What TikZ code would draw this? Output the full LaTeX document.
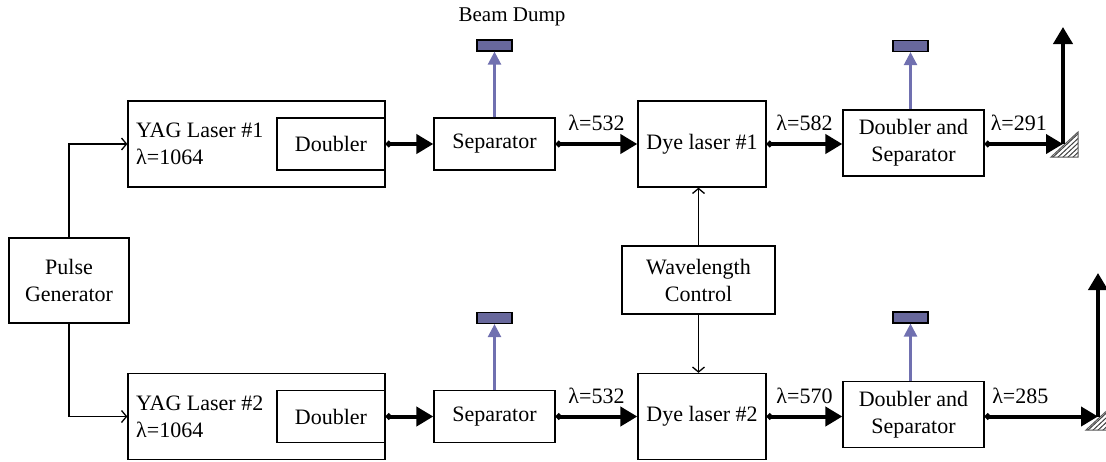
\documentclass[tikz,border=0pt]{standalone}
\usepackage{fontspec}
\setmainfont{Liberation Serif}
\newfontfamily\labelfont{Liberation Serif}
\usetikzlibrary{arrows.meta}
\definecolor{dumpfill}{RGB}{104,104,156}
\definecolor{dumpbeam}{RGB}{112,112,176}
\begin{document}
\begin{tikzpicture}[x=1pt,y=-1pt,
  txt/.style={font=\labelfont\fontsize{22}{27}\selectfont},
  blk/.style={draw,line width=1.3pt,inner sep=0pt,align=center,txt},
  dump/.style={draw,line width=1.2pt,fill=dumpfill,inner sep=0pt,minimum width=35pt,minimum height=11pt},
  beam/.style={line width=4pt,{Circle[length=6pt]}-{Triangle[length=17pt,width=19pt]}},
  outbeam/.style={line width=4pt,-{Triangle[length=17pt,width=19pt]}},
  dumpray/.style={draw=dumpbeam,line width=2.4pt,-{Triangle[length=13pt,width=13pt]}},
  sig/.style={line width=1.3pt,-{Straight Barb[length=5pt,width=12pt]}},
  lbl/.style={txt,inner sep=0pt,above=11pt},
  mirror/.style={draw=black!65,line width=1pt},
  hatch/.style={draw=black!75,line width=1pt}]
\useasboundingbox (0,0) rectangle (1106,461);
\clip (0,0) rectangle (1106,461);

% trigger source
\node[blk,minimum width=120pt,minimum height=85pt] (pulse) at (69,280.5) {Pulse\\Generator};

% upper chain
\node[blk,minimum width=257pt,minimum height=86pt] (yag1) at (256.5,144) {};
\node[txt,anchor=west,align=left,inner sep=0pt] (yag1t) at (136,144) {YAG Laser \#1\\λ=1064};
\node[blk,minimum width=108pt,minimum height=52pt] (dbl1) at (331,144) {Doubler};
\node[blk,minimum width=121pt,minimum height=52pt] (sep1) at (494.5,144) {Separator};
\node[dump] (dump1) at (494.5,45.5) {};
\node[font=\labelfont\fontsize{21}{24}\selectfont] (dumplbl) at (512,17) {Beam Dump};
\node[blk,minimum width=128pt,minimum height=86pt] (dye1) at (702,144) {Dye laser \#1};
\node[blk,minimum width=141pt,minimum height=66pt] (ds1) at (913.5,143) {Doubler and\\Separator};
\node[dump] (dump3) at (910.5,46) {};
\coordinate (m1) at (1063,144);
\coordinate (up1) at (1063,27);

% tuning
\node[blk,minimum width=153pt,minimum height=68pt] (wl) at (698.5,280) {Wavelength\\Control};

% lower chain
\node[blk,minimum width=257pt,minimum height=86pt] (yag2) at (256.5,416.5) {};
\node[txt,anchor=west,align=left,inner sep=0pt] (yag2t) at (136,416.5) {YAG Laser \#2\\λ=1064};
\node[blk,minimum width=108pt,minimum height=52pt] (dbl2) at (331,416.5) {Doubler};
\node[blk,minimum width=121pt,minimum height=52pt] (sep2) at (494.5,416.5) {Separator};
\node[dump] (dump2) at (494.5,318) {};
\node[blk,minimum width=128pt,minimum height=86pt] (dye2) at (702,416.5) {Dye laser \#2};
\node[blk,minimum width=141pt,minimum height=66pt] (ds2) at (913.5,414.5) {Doubler and\\Separator};
\node[dump] (dump4) at (910.5,317.5) {};
\coordinate (m2) at (1098,416.5);
\coordinate (up2) at (1098,273);

% mirrors: right triangles hatched parallel to the reflecting face
\foreach \mx/\my in {1051/157, 1086/430}{
  \begin{scope}
    \clip (\mx,\my) -- ++(27,0) -- ++(0,-25) -- cycle;
    \foreach \d in {0,5,...,40}
      \draw[hatch] (\mx+\d,\my+2) -- ++(-30,28) (\mx+\d,\my+2) -- ++(30,-28);
  \end{scope}
  \draw[mirror] (\mx,\my) -- ++(27,0) -- ++(0,-25) -- cycle;
}

% trigger lines
\draw[sig] (pulse.north) |- (yag1.west);
\draw[sig] (pulse.south) |- (yag2.west);
\draw[sig] (wl.north) -- (wl.north |- dye1.south);
\draw[sig] (wl.south) -- (wl.south |- dye2.north);

% upper beam path
\draw[beam] (dbl1.east) -- (sep1.west);
\draw[beam] (sep1.east) -- node[lbl] {λ=532} (dye1.west);
\draw[beam] (dye1.east) -- node[lbl] {λ=582} (dye1.east -| ds1.west);
\draw[beam] (ds1.east |- m1) -- node[lbl,xshift=-5pt] {λ=291} (m1);
\draw[outbeam] (m1) -- (up1);
\draw[dumpray] (sep1.north) -- (dump1.south);
\draw[dumpray] (ds1.north -| dump3) -- (dump3.south);

% lower beam path
\draw[beam] (dbl2.east) -- (sep2.west);
\draw[beam] (sep2.east) -- node[lbl] {λ=532} (dye2.west);
\draw[beam] (dye2.east) -- node[lbl] {λ=570} (dye2.east -| ds2.west);
\draw[beam] (ds2.east |- m2) -- node[lbl,xshift=-21pt] {λ=285} (m2);
\draw[outbeam] (m2) -- (up2);
\draw[dumpray] (sep2.north) -- (dump2.south);
\draw[dumpray] (ds2.north -| dump4) -- (dump4.south);
\end{tikzpicture}
\end{document}
